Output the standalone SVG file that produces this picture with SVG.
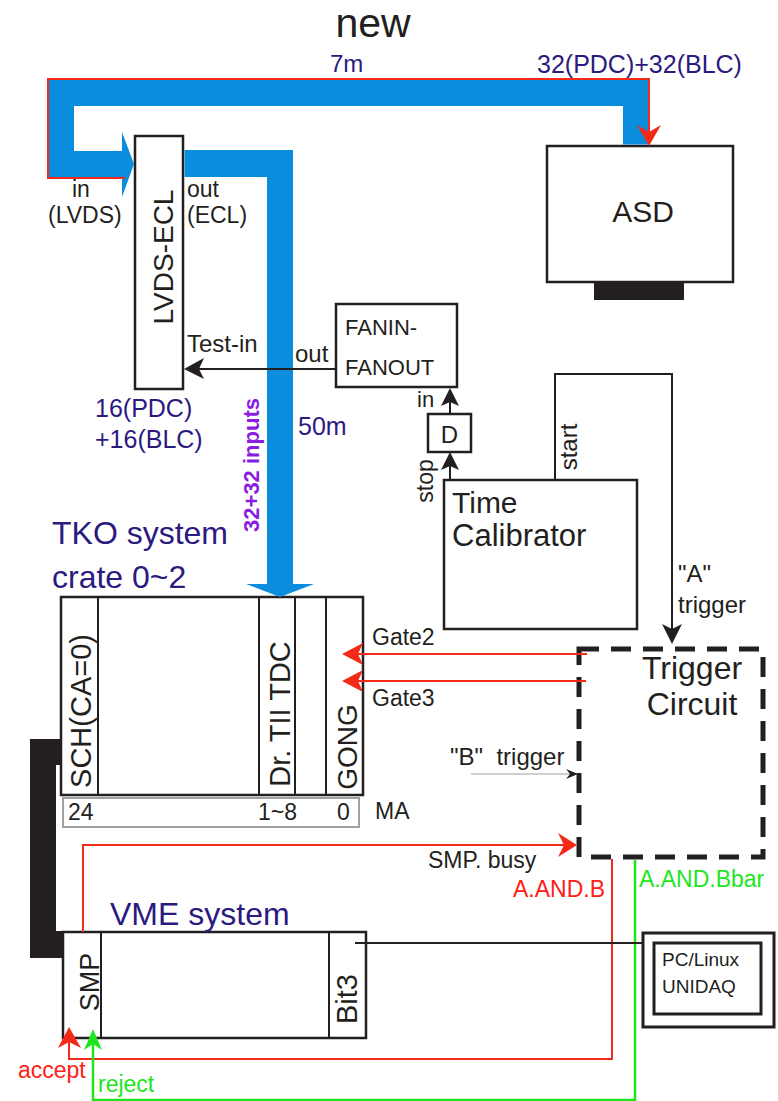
<svg xmlns="http://www.w3.org/2000/svg" width="778" height="1101" viewBox="0 0 778 1101">
<defs>
<style>
text{font-family:"Liberation Sans",Arial,sans-serif;fill:#231f20}
.pur{fill:#2b1a7f}
.red{fill:#ff2015}
.grn{fill:#1ee61e}
.box{fill:#fff;stroke:#231f20;stroke-width:2.5}
.ln{fill:none;stroke:#231f20;stroke-width:2}
.rl{fill:none;stroke:#f42a18;stroke-width:2}
.gl{fill:none;stroke:#1ee61e;stroke-width:2.5}
.band{fill:#0a8ddc}
.ah{fill:#231f20}
.rah{fill:#f42a18}
.gah{fill:#1ee61e}
</style>
</defs>
<rect width="778" height="1101" fill="#fff"/>
<text x="373" y="37" font-size="41" text-anchor="middle">new</text>

<g id="asd">
<rect class="box" x="547" y="146" width="186" height="136"/>
<rect x="594" y="282" width="90" height="18" fill="#231f20"/>
<text x="643" y="222" font-size="30" text-anchor="middle">ASD</text>
</g>
<g id="lvds-ecl">
<rect class="box" x="135" y="136" width="48" height="253"/>
<text transform="translate(173,257) rotate(-90)" font-size="28" text-anchor="middle">LVDS-ECL</text>
</g>
<g id="fanin-fanout">
<rect class="box" x="336" y="304" width="121" height="83"/>
<text x="345" y="335" font-size="22">FANIN-</text>
<text x="345" y="375" font-size="22">FANOUT</text>
</g>
<g id="delay">
<rect class="box" x="428" y="414" width="43" height="38"/>
<text x="449.5" y="443" font-size="24" text-anchor="middle">D</text>
</g>
<g id="time-calibrator">
<rect class="box" x="444" y="480" width="193" height="149"/>
<text x="452" y="513" font-size="30">Time</text>
<text x="452" y="546" font-size="31">Calibrator</text>
</g>
<g id="trigger-circuit">
<rect x="579" y="649" width="184" height="208" fill="none" stroke="#231f20" stroke-width="5" stroke-dasharray="20 12"/>
<text x="692" y="679" font-size="32" text-anchor="middle">Trigger</text>
<text x="692" y="715" font-size="32" text-anchor="middle">Circuit</text>
</g>
<g id="tko">
<rect class="box" x="61" y="597" width="302" height="198"/>
<path class="ln" d="M98,597 V795 M259,597 V795 M295,597 V795 M326,597 V795" stroke-width="2.5"/>
<text transform="translate(91,711) rotate(-90)" font-size="29" text-anchor="middle">SCH(CA=0)</text>
<text transform="translate(290,714) rotate(-90)" font-size="29" text-anchor="middle">Dr. TII TDC</text>
<text transform="translate(357,747) rotate(-90)" font-size="28" text-anchor="middle">GONG</text>
<rect x="63" y="798" width="296" height="29" fill="#fff" stroke="#a0a0a0" stroke-width="2"/>
<text x="68" y="820" font-size="23">24</text>
<text x="258" y="820" font-size="23">1~8</text>
<text x="337" y="820" font-size="23">0</text>
</g>
<g id="vme">
<rect class="box" x="63" y="932" width="303" height="106"/>
<path class="ln" d="M101,932 V1038 M329,932 V1038"/>
<text transform="translate(99,982) rotate(-90)" font-size="27" text-anchor="middle">SMP</text>
<text transform="translate(357,999) rotate(-90)" font-size="29" text-anchor="middle">Bit3</text>
</g>
<g id="pc">
<rect x="643" y="933" width="131" height="94" fill="#fff" stroke="#231f20" stroke-width="3"/>
<rect x="654" y="943" width="107" height="71" fill="#fff" stroke="#231f20" stroke-width="3"/>
<text x="662" y="966" font-size="19">PC/Linux</text>
<text x="662" y="993" font-size="19">UNIDAQ</text>
</g>

<g id="connectors">
<polygon class="band" points="48,80 648,80 648,144.5 623,144.5 623,106 74,106 74,151 122,151 122,132 134,164 122,197 122,177 48,177"/>
<path class="rl" d="M125,178 H48 V79 H649 V132"/>
<path class="rah" d="M637,125 L649,146 L661,125 L649,132 Z"/>
<polygon class="band" points="184.5,150 293,150 293,584 314,584 280,597 246,584 267,584 267,177 184.5,177"/>
<path class="ln" d="M336,369 H195"/>
<path class="ah" d="M184,369 L204,358 L199,369 L204,379 Z"/>
<path class="ln" d="M450,414 V398"/>
<path class="ah" d="M450,388 L441,406 L450,402 L459,406 Z"/>
<path class="ln" d="M450,480 V462"/>
<path class="ah" d="M450,452 L441,470 L450,466 L459,470 Z"/>
<path class="ln" d="M555,480 V374 H672 V632"/>
<path class="ah" d="M672,644 L662,624 L672,629 L682,624 Z"/>
<path class="rl" d="M587,654 H352"/>
<path class="rah" d="M342,654 L363,643 L358,654 L363,665 Z"/>
<path class="rl" d="M586,681 H352"/>
<path class="rah" d="M342,681 L363,670 L358,681 L363,692 Z"/>
<path d="M471,774 H572" fill="none" stroke="#a0a0a0" stroke-width="1.2"/>
<path class="ah" d="M578,774 L566,769 L570,774 L566,779 Z"/>
<path class="rl" d="M83,932 V845 H565"/>
<path class="rah" d="M577,845 L558,833 L564,845 L558,857 Z"/>
<path class="rl" d="M612,859 V1059 H69 V1040"/>
<path class="rah" d="M69,1027 L58,1048 L69,1042 L81,1048 Z"/>
<path class="gl" d="M635,860 V1100 H93 V1042"/>
<path class="gah" d="M93,1029 L84,1050 L93,1044 L102,1050 Z"/>
<path class="ln" d="M355,943 H643"/>
<path fill="#231f20" d="M30,739 H60 V765 H56 V931 H62 V958 H30 Z"/>
</g>

<text class="pur" x="330" y="72" font-size="24">7m</text>
<text class="pur" x="537" y="73" font-size="25">32(PDC)+32(BLC)</text>
<text x="72" y="197" font-size="23">in</text>
<text x="48" y="223" font-size="23">(LVDS)</text>
<text x="187" y="197" font-size="23">out</text>
<text x="187" y="223" font-size="23">(ECL)</text>
<text x="187" y="352" font-size="24">Test-in</text>
<text x="295" y="362" font-size="24">out</text>
<text class="pur" x="95" y="417" font-size="25">16(PDC)</text>
<text class="pur" x="95" y="448" font-size="25">+16(BLC)</text>
<text class="pur" x="298" y="435" font-size="25">50m</text>
<text transform="translate(259,465) rotate(-90)" font-size="22" font-weight="bold" text-anchor="middle" style="fill:#8a1be2">32+32 inputs</text>
<text x="417" y="407" font-size="22">in</text>
<text transform="translate(433,481) rotate(-90)" font-size="23" text-anchor="middle">stop</text>
<text transform="translate(577,447) rotate(-90)" font-size="24" text-anchor="middle">start</text>
<text x="678" y="582" font-size="24">"A"</text>
<text x="678" y="613" font-size="24">trigger</text>
<text class="pur" x="52" y="544" font-size="32">TKO system</text>
<text class="pur" x="52" y="588" font-size="32">crate 0~2</text>
<text x="372" y="645" font-size="23">Gate2</text>
<text x="372" y="706" font-size="23">Gate3</text>
<text x="450" y="765" font-size="24" xml:space="preserve">"B"  trigger</text>
<text x="375" y="819" font-size="23">MA</text>
<text x="428" y="868" font-size="23">SMP. busy</text>
<text class="red" x="513" y="897" font-size="23">A.AND.B</text>
<text class="grn" x="639" y="887" font-size="23">A.AND.Bbar</text>
<text class="pur" x="110" y="925" font-size="32">VME system</text>
<text class="red" x="18" y="1078" font-size="23">accept</text>
<text class="grn" x="98" y="1092" font-size="23">reject</text>
</svg>
